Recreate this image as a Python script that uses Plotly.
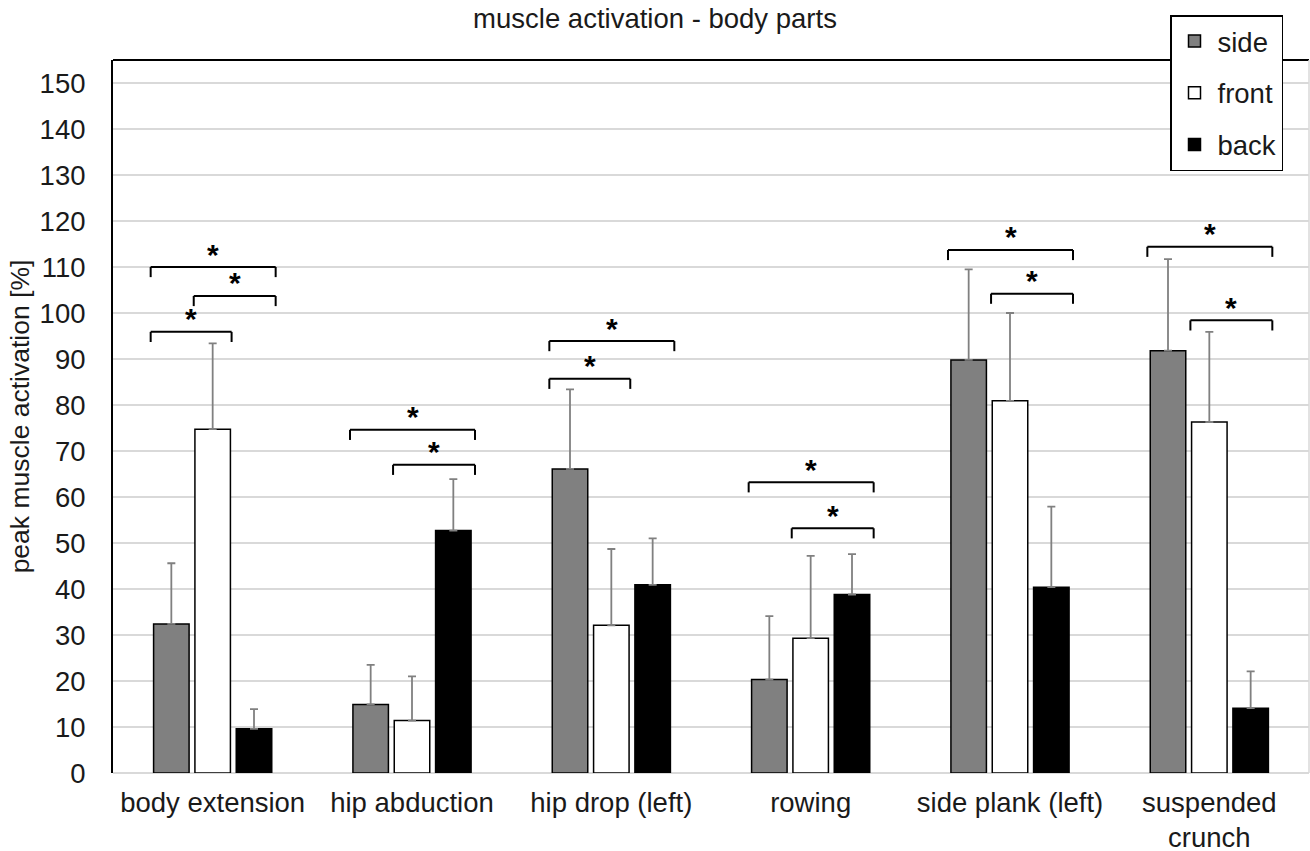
import plotly.graph_objects as go

categories = ["body extension", "hip abduction", "hip drop (left)", "rowing",
              "side plank (left)", "suspended<br>crunch"]
series_names = ["side", "front", "back"]

side_vals = [32.4, 14.9, 66.1, 20.3, 89.8, 91.8]
side_err = [13.2, 8.6, 17.3, 13.8, 19.7, 19.9]
front_vals = [74.75, 11.4, 32.1, 29.3, 80.9, 76.3]
front_err = [18.65, 9.6, 16.6, 17.9, 19.1, 19.6]
back_vals = [9.6, 52.7, 40.9, 38.8, 40.4, 14.1]
back_err = [4.3, 11.2, 10.1, 8.8, 17.5, 8.0]

# significance brackets: (category index, from series, to series, level)
brackets = [
    (0, "side", "back", 110.0), (0, "front", "back", 103.7), (0, "side", "front", 95.9),
    (1, "side", "back", 74.6), (1, "front", "back", 67.0),
    (2, "side", "back", 93.9), (2, "side", "front", 85.7),
    (3, "side", "back", 63.2), (3, "front", "back", 53.2),
    (4, "side", "back", 113.7), (4, "front", "back", 104.2),
    (5, "side", "back", 114.4), (5, "front", "back", 98.4),
]

y_ticks = list(range(0, 151, 10))

FONT = "Liberation Sans, Arial, sans-serif"
TXT = "#1a1a1a"
FS = 27.5
fills = {"side": "#808080", "front": "#ffffff", "back": "#000000"}
vals = {"side": side_vals, "front": front_vals, "back": back_vals}
errs = {"side": side_err, "front": front_err, "back": back_err}

fig = go.Figure()
for i, name in enumerate(series_names):
    fig.add_trace(go.Bar(
        name=name, x=categories, y=vals[name],
        marker=dict(color=fills[name], line=dict(color="#000000", width=1.5)),
        error_y=dict(type="data", symmetric=False, array=errs[name],
                     arrayminus=[0] * len(categories),
                     color="#808080", thickness=1.8, width=4),
        legendgroup=name,
    ))

# bracket ends in category units relative to category center
left_end = {"side": -0.311, "front": -0.095}
right_end = {"front": 0.095, "back": 0.316}
drop = 2.2
shapes = []
annotations = []
for ci, a, b, lvl in brackets:
    x0 = ci + left_end[a]
    x1 = ci + right_end[b]
    line = dict(color="#000000", width=2)
    shapes.append(dict(type="line", xref="x", yref="y", x0=x0, x1=x1, y0=lvl, y1=lvl, line=line))
    shapes.append(dict(type="line", xref="x", yref="y", x0=x0, x1=x0, y0=lvl, y1=lvl - drop, line=line))
    shapes.append(dict(type="line", xref="x", yref="y", x0=x1, x1=x1, y0=lvl, y1=lvl - drop, line=line))
    annotations.append(dict(x=(x0 + x1) / 2, y=lvl, xref="x", yref="y", text="<b>*</b>",
                            showarrow=False, yanchor="middle", yshift=13,
                            font=dict(family=FONT, size=30, color="#000000")))

# frame: top black, right light gray
shapes.append(dict(type="line", xref="paper", yref="paper", x0=0, x1=1, y0=1, y1=1,
                   line=dict(color="#000000", width=2), layer="above"))
shapes.append(dict(type="line", xref="paper", yref="paper", x0=1, x1=1, y0=0, y1=1,
                   line=dict(color="#d9d9d9", width=1.5)))

fig.update_layout(
    width=1310, height=851,
    margin=dict(l=113, r=1, t=60, b=78),
    paper_bgcolor="white", plot_bgcolor="white",
    barmode="group", bargap=0.378, bargroupgap=0.141,
    font=dict(family=FONT, size=FS, color=TXT),
    title=dict(text="muscle activation - body parts", x=0.5, xref="container",
               y=1 - 18 / 851, yref="container", yanchor="middle", xanchor="center",
               font=dict(family=FONT, size=FS, color=TXT)),
    xaxis=dict(type="category", showgrid=False, showline=False, ticks="",
               ticklabelstandoff=10, automargin=False,
               tickfont=dict(family=FONT, size=FS, color=TXT)),
    yaxis=dict(range=[0, 155], tickvals=y_ticks, showgrid=True, gridcolor="#d9d9d9",
               gridwidth=1.5, zeroline=True, zerolinecolor="#d9d9d9", zerolinewidth=1.5,
               showline=True, linecolor="#000000", linewidth=2, ticks="",
               ticklabelstandoff=20, automargin=False,
               tickfont=dict(family=FONT, size=FS, color=TXT),
               title=dict(text="peak muscle activation [%]", standoff=2,
                          font=dict(family=FONT, size=26.5, color=TXT))),
    legend=dict(x=(1170 - 113) / 1196, y=(773.3 - 15) / 713.3, xanchor="left", yanchor="top",
                xref="paper", yref="paper",
                bordercolor="#000000", borderwidth=1.5, bgcolor="white",
                font=dict(family=FONT, size=FS, color=TXT),
                itemwidth=36,
                tracegroupgap=13, traceorder="grouped"),
    shapes=shapes,
    annotations=annotations,
    showlegend=True,
)

fig.write_html("out.html")
